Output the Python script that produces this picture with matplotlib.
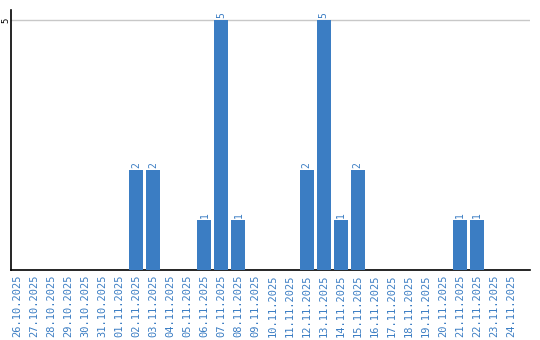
import matplotlib
matplotlib.use("Agg")
import matplotlib.pyplot as plt

dates = ["26.10.2025", "27.10.2025", "28.10.2025", "29.10.2025", "30.10.2025",
         "31.10.2025", "01.11.2025", "02.11.2025", "03.11.2025", "04.11.2025",
         "05.11.2025", "06.11.2025", "07.11.2025", "08.11.2025", "09.11.2025",
         "10.11.2025", "11.11.2025", "12.11.2025", "13.11.2025", "14.11.2025",
         "15.11.2025", "16.11.2025", "17.11.2025", "18.11.2025", "19.11.2025",
         "20.11.2025", "21.11.2025", "22.11.2025", "23.11.2025", "24.11.2025"]
counts = [0, 0, 0, 0, 0, 0, 0, 2, 2, 0, 0, 1, 5, 1, 0,
          0, 0, 2, 5, 1, 2, 0, 0, 0, 0, 0, 1, 1, 0, 0]
yticks = [5]

blue = "#3b7dc3"
fig = plt.figure(figsize=(5.4, 3.4), dpi=100)
ax = fig.add_axes([0.0204, 0.2059, 0.9606, 0.7647])
x = list(range(len(dates)))
ax.bar(x, counts, width=0.82, color=blue, zorder=3)
for xi, v in zip(x, counts):
    if v > 0:
        ax.text(xi, v + 0.03, str(v), rotation=90, ha="center", va="bottom",
                color=blue, fontsize=7, family="DejaVu Sans Mono", zorder=4)
ax.set_xlim(-0.35, 30.1)
ax.set_ylim(0, 5.2)
ax.set_yticks(yticks)
ax.set_yticklabels([str(t) for t in yticks], rotation=90, va="center",
                   fontsize=6.5, family="DejaVu Sans Mono")
ax.set_xticks(x)
ax.set_xticklabels(dates, rotation=90, color=blue, fontsize=7.5,
                   family="DejaVu Sans Mono")
ax.tick_params(axis="x", length=0, pad=3)
ax.tick_params(axis="y", length=0, pad=0.5)
ax.grid(axis="y", color="#c8c8c8", linewidth=1, zorder=0)
for s in ["top", "right"]:
    ax.spines[s].set_visible(False)
ax.spines["left"].set_linewidth(1.2)
ax.spines["bottom"].set_linewidth(1.2)
fig.savefig("out.png", dpi=100)
